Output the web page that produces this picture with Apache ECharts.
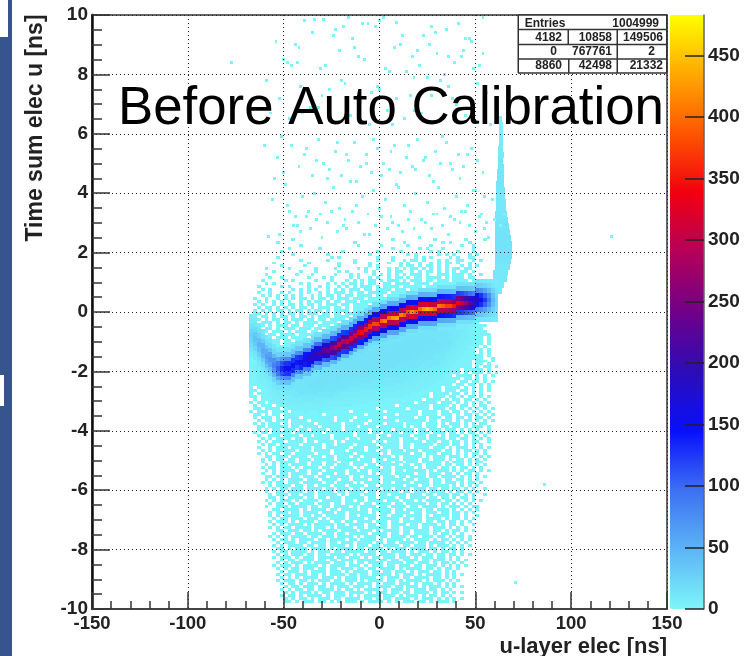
<!DOCTYPE html>
<html><head><meta charset="utf-8">
<style>html,body{margin:0;padding:0;background:#fff}#c{width:751px;height:656px}</style>
<script src="https://cdn.jsdelivr.net/npm/echarts@6/dist/echarts.min.js"></script></head>
<body><div id="c"></div>
<script>
const titleText = 'Before Auto Calibration';
const xTitle = 'u-layer elec [ns]';
const yTitle = 'Time sum elec u [ns]';
const paletteMax = 483;
const paletteColors = ['#7DF6FA','#5CB4F6','#3D70F4','#0810FA','#2E0CB8','#6F0088','#B4005A','#F00010','#FF5500','#FFA800','#FFFF00'];
const statsRows = [['Entries','','1004999'],['4182','10858','149506'],['0','767761','2'],['8860','42498','21332']];

// background counts, top row first; each row is 0.1 ns tall, each char 2 ns wide starting at -70 ns; digit = count/2.5
const bgRows = [
"............1.........................1..........1.......1....1.......",
"........1...................1............1.........1.1....1...........",
"..............1..............1.....1......1.....1.......1..1..........",
"...........1.......1..................1......1.1...1.......1..........",
".........1...............1........1.....1.......1.1....1...1..........",
"............1........1..........1.........1.1.....1.1.1...1.1.........",
"........1.............1.1.........1...1.....1.1.1....1.1..11..........",
"..............1......1......1.....1...1..1.11.1...1.1..11..1.1........",
".......1........1.......1...1...1....1..1.1..1..1.1.11.1..1...........",
".........1.....1........1.......1.1.....1.11.1.11.1.1...1.1.1.........",
".....1.....1......1....1.....1.1..1..1.1.1.11.1.1.1.1.11.11...........",
".......1......1...1.....1.1....1.1...1.11..1.1.11.1.1.1.11.1..........",
".....1.......1...1.....1...1.1...1.1.1.1.1.111.1..111.111.1..1........",
"......1..1......1...1.1....1.1..1.1..1.11.1.11.1111.1.111.11..........",
"....1.....1.1.....1...1...1.1.1.11.1.111.1.111.11.111.1111.1.1........",
".....1.1......1.1....1.1.1.11.1.11..11.1111.1111.111111.111.1.........",
"...1.....1.1....1..1.1..1.1.1.111.1.1111.11111.1111.111111.11.1.......",
"....1.1.....1.1.1.1..1.1.1.111.11.1111.111.1111111.1111111.1..........",
"...1..1..1.1..1.1..1.1.111.1.11.11111.1111111.11111111.11111.1........",
"....1.1.1.1.1.1..1.1.11.1.11.1111.11.111111.111111111111111.1.........",
"..1..1..1.1.1.11.1.11.1.111.111.1111111.11111111111111111111..1.......",
"...1.1.1.1.1..1.1.11.1.11.111.111111.1111111111111111211111.1.........",
"..1.1..1.1.11.1.11.1.111.11.1111.111111111111111211121211111.1........",
"...1.11.1.1.1.11.1.111.11.1.1111111.1111111111122122212221111.........",
"..1.1.1.11.1.11.1.11.1.1111.11111111111111122222222222222211..1.......",
"..11.1.1.1.11.1.111.11.11.1111.111111111112222222222322322211.1.......",
"..1.11.1.11.1.11.1.111.1111.11111111111222222323333333322221111.......",
"..11.1.11.1.111.11.11.1111.1111111111222223233333333333322221.1.......",
"..1.111.1.11.1.1111.1111.111111111122222333333333344433332211.........",
"..111.1.111.11.111.111.1111111111222233333333344444444433322111.......",
"..11.11.1.111.111.11.11111111112222333333344444445444443332111........",
".1.111.111.1.111.11.1111111111222333333444444455555554444322111.......",
"..111.11.1111.1111.111111111222233334444445555555555554433221111......",
".11.111.111.1111.111111111222233334444555555555555555444332211.1......",
".1111.111.11.11111.1111122223333444455555566666666555543322111.1......",
".111.1111.11111.1111112222333344445555666666666666655543322111.1......",
".11111.11111.111111112223333444555566666666666666665544332111.1.......",
".1111111.111111.11222233334445555666666666666666655544332211.1.1......",
".11211111.11111112222333444455566666666666666665555443322111.1.1......",
".1122111111111122233334445555666666666666666655554443332211111.1......",
".1112221111111222333444555566666666666666666555554443322111111..1.....",
".1122222111122233344455566666666666666666655555444433221111.111.1.....",
".1122222211122333444555666666666666666665555554444433221111.11.1......",
".1223322221223334445556666666666666666655555544443332211111.1.11.1....",
".1223332222233344455566666666666666665555555444433322111.11111.1......",
".1123333222333444555666666666666666555555544444333222111.1.111.1.1....",
".11233332333444555566666666666655555555544444333322211.1111.1.1.1.....",
".1122333333444455566666666665555555544444443333322211111.11.1.1.......",
".112223344445555566666666555555554444444433333222211111.11.11.1.1.....",
".11122334444555566666655555555444444444333332222211111.11.11.1.1......",
".1.112333444555566665555555444444443333333222222111.1111.1.1.1.1......",
".11.11233344455555555555444444333333333322222211111.111.11.1.1.1......",
".1.111223344445555544444433333333322222222211111.1111.11.1.1.1........",
".11.11122333444444444443333333222222222221111111.111.11.1.11.1.1......",
"..1.111222333334443333333322222222221111111111.1111.1.11.11.1.1.......",
".1.11.11222333333333322222222222111111111111.11111.111.1.1.1.1.1......",
"..1.111.1222222222222222222211111111111.11111111.1111.1.11.1.11.......",
"..11.1111.112222222222211111111111.1111111.11111.111.11.1.1.1.1.1.....",
".1.111.1111.111211121111111.11111111.11111111.1111.11.11.1.1.1.1......",
"..11.1.11.1111111111.1111111111.1111111.11111.1111.111.1.11.1.1.1.....",
"..1.111.1.1111.11111111.1111.1111111.1111111.11.111.11.11.1.11.1......",
"...1.11.111.1111.111111.111.1111.111111.1111111.11.111.1.11.1.1.1.....",
"..1.1.111.1.111111.111111.11111.1111.1111.1111.111.1.111.1.1.11.......",
"...11.11111.11.1111.11111.111.1111.111111.1.11.111.11.11.1.111.1......",
"...1.1.11.111.11.1111.111.111111.11111.11111.11.111.111.1.1.1..1......",
"..1.11.11111.1111111.1111111.111.11.1111.111.111.111.11.1.11.1.1......",
"...1..111.1111.11.1111.11111.11111.11.11111.111.11.1.111.1.11.1.......",
"....1.1.1111.11.111111.111.11.1111.11111.111.11.1111.11.11.1.1.1......",
"...1.1.111.1111.11.1111.1.1111111.11.111.11111.111.11.11.1.11..1......",
"....1.11.11111.11111.11.1111.11111.11111.11.11111.111.11.1.1.1........",
"...1..1.111.11111.11.111111.111.111.1111.11.1111.111.1.111.1.1.1......",
"....1.1.11111.111.1111.111.1111.11.11.111.111.11111.11.1.11.1.1.......",
"...1.1.11.11.11111.111.11111.111111.1.11111.11.111.111.1.1.11.1.......",
".....11.111.1111.111.11.111.11.1111111.1.11111.1.111.111.1.1.1.1......",
"....1.1.11.11.111.11111.11111.111.11.111.1111.11.111.1.11.1.1.1.......",
"....1..1.1111.11.111.111.11.11111.1111.11.111.11111.1.111.1.11........",
".....1.1.11.1111.111.11.111.111.11.11111.11.11.1111.11.11.1.1.1.......",
"....1.11.111.1.1111.11.11111.1.1111.11.11111.1.111.11.1.11.1.1........",
".....1.1.1111.11.111.11111.11.11.11111.11.11111.1.111.1.1.11.1.1......",
"....1..1.11.1111.11.111.11.11111.1.111.11111.11.111.11.1.11.1.........",
".....11.111.11.111.11.11111.11.1111.111.11.1111.11.1111.1.1.1.1.......",
".....1.1.1.1111.111.1111.11.1111.11.11111.11.111.11.11.11.1.1.........",
"....1.1.11.111.11111.11.1111.1.1111.11.1111.1111.11.111.1.11.1........",
"......1.1111.11.11.111.111.1111.11.111111.111.11.1111.1.1.1.1.........",
".....1.1.11.111.1111.11.111.11.1111.11.1111.111.11.11.11.1.1..1.......",
".....1..11.1111.11.1111.11.1111.11.11111.11.111.1111.1.11.1.1.........",
"......1.111.11.111.11111.1.111.111.11.1111.111.11.111.11.1.1..1.......",
"......11.1.1111.11.11.111.11111.11.1111.11.1111.11.11.1.11.1..........",
".....1.1.111.1.1111.11111.11.11.1111.111.111.1.1111.11.1.1.1.1........",
"......1.11.11.1111.111.11.1111.11.1111.11.11111.11.11.1.1.1...........",
".....1..111.1111.11.11.1111.1.1111.11.1111.11.1111.1.111.1.11.........",
".......11.1111.1.1111.11.1111.11.11111.11.1111.11.111.1.1.1.1.........",
"......1.111.11.1111.111.11.11111.1.111.1111.11.111.11.11.1.1..........",
"......1.1.1111.11.11.11111.11.1111.11.111.1111.1.1111.11.1..1.........",
".......1.11.111.111.1.1111.1111.11.11111.11.11.1111.1.11.1.1..........",
"......1.111.1.1111.111.11.11.1111.111.11.11111.11.11.11.1.1...........",
".......1.1.1111.1.11111.11.1111.11.11.1111.11.1111.1.11.1..1..........",
"......1.1.11.1111.111.1.1111.11.11111.11.1111.11.111.1.1.1............",
"........11.111.11.1.1111.1111.111.1.1111.11.1111.11.1.11.1.1..........",
".......1.111.11.1111.11.11.11111.1111.11.11.1111.1.11.1.1.............",
"......1.1.1.1111.11.111.1111.1.111.11.1111.11.111.11.1.11.1...........",
".......1.11.1.1111.11.1111.11.1111.1.1111.1.1111.1.11.1.1.1...........",
"........1.111.11.1111.11.111.1111.11.11.1111.11.1111.1.1.1............",
".......1.1.1111.11.11.1111.1.111.11.1111.11.111.1.111.1.1.1...........",
"........11.1.111.1111.1.1111.11.1111.1.111.1111.11.1.11.1.............",
".......1.11.1111.1.111.11.11111.11.11.1111.1.111.1.11.1.1.............",
"........1.1.111.11.11.11111.1.1111.1111.11.111.11.11.11.1.1...........",
".......1.111.1.111.1111.11.111.1.11.111.111.1.111.11.1.1..............",
".........1.11.1111.11.11.111.11111.11.11.1111.11.111.1.1.1............",
"........1.1.111.1.1111.111.1.11.1111.1111.11.111.1.11.1.1.............",
".......1.111.1.1111.1.1111.111.1.111.11.111.11.111.1.1.1.1............",
"........1.1.11.111.11.11.111.11.11.1111.1.1111.11.1.11.1..............",
".........1.111.1.1111.111.1.1111.11.11.111.1.111.11.1.1...............",
"........1.11.111.11.1.1111.11.11.11111.1.111.1.1111.1.1.1.............",
".........1.1.1.1111.111.1.111.1111.1.111.11.1111.11.1.1...............",
"........1.111.11.1.111.11.111.1.1111.11.1.1111.1.111.1.1..............",
".........1.11.1.111.1.1111.1.1111.1.111.111.1.111.1.1.1...............",
"..........1.11.111.11.1.111.111.1.1111.11.111.1.111.1.1.1.............",
".........1.1.11.11.1111.1.11.1.1111.1.111.1.111.11.1.1................",
"..........1.1.111.1.11.111.1111.1.111.11.11.1111.1.11.1.1.............",
".........1.11.1.1111.1.111.1.1.1111.111.1.111.1.11.1.1................",
"..........1.1.11.1.111.11.1111.11.1.11.1111.1.111.1.1.1.1.............",
"..........11.1.111.11.1.1.111.1.1111.1.1.111.11.1.111.1..............."
];
const bgTopEdge = 2.5, bgRowH = 0.1, bgLeft = -70, bgColW = 2, bgScale = 2.5;

// ridge columns: [x left edge, bin centre y, nine bins of counts, lowest first]; columns are 2 ns wide, bins 0.16 ns tall
const bandBinH = 0.16;
const bandColumns = [
[-68,-0.8,8,12,18,24,28,24,16,10,7],[-66,-0.9,9,14,24,34,40,34,22,12,8],[-64,-1.1,10,16,28,40,48,40,26,14,9],
[-62,-1.3,10,18,32,48,56,48,30,16,10],[-60,-1.5,10,20,36,54,64,54,34,18,10],[-58,-1.6,11,22,40,60,72,62,38,20,11],
[-56,-1.8,11,24,46,72,86,74,44,22,12],[-54,-1.9,12,28,56,90,108,92,56,26,12],[-52,-1.9,14,34,72,112,132,112,68,30,13],
[-50,-1.9,14,38,80,126,150,128,78,34,14],[-48,-1.9,14,38,82,128,152,130,78,34,14],[-46,-1.8,14,38,80,130,148,128,76,34,14],
[-44,-1.7,13,36,76,124,142,124,72,32,14],[-42,-1.7,14,38,82,136,160,132,80,34,14],[-40,-1.6,14,36,84,140,168,142,82,36,14],
[-38,-1.6,14,38,88,146,176,150,86,38,15],[-36,-1.5,14,38,90,156,192,160,90,38,15],[-34,-1.4,14,40,94,160,196,160,92,40,15],
[-32,-1.4,15,42,100,170,210,172,98,42,15],[-30,-1.3,15,44,104,180,226,182,104,44,16],[-28,-1.3,15,44,110,190,240,192,108,46,16],
[-26,-1.2,16,46,116,204,258,206,114,46,16],[-24,-1.2,16,48,124,218,280,220,120,48,16],[-22,-1.1,16,50,128,232,298,232,126,50,16],
[-20,-1.0,16,50,124,222,286,224,122,50,17],[-18,-1.0,16,50,128,236,304,238,128,50,17],[-16,-0.9,17,52,130,240,312,242,130,52,17],
[-14,-0.8,17,54,134,244,320,246,134,54,18],[-12,-0.7,18,56,138,254,336,256,138,56,18],[-10,-0.7,18,56,140,260,344,262,140,56,18],
[-8,-0.6,18,58,144,268,352,268,142,56,18],[-6,-0.5,18,58,146,272,366,276,146,58,18],[-4,-0.4,18,60,150,282,376,284,150,58,18],
[-2,-0.4,18,60,150,284,372,280,146,56,18],[0,-0.3,18,60,152,290,392,292,150,58,18],[2,-0.3,18,62,156,296,410,300,152,58,18],
[4,-0.2,18,60,150,292,400,296,150,56,18],[6,-0.2,18,60,152,300,424,302,150,56,18],[8,-0.2,18,60,154,302,430,304,150,56,18],
[10,-0.1,18,60,150,296,410,294,146,54,18],[12,-0.1,18,58,148,294,392,292,144,54,17],[14,0,18,60,150,300,380,296,146,54,17],
[16,0,18,60,156,320,420,320,150,54,17],[18,0,18,58,150,304,390,302,146,52,16],[20,0.1,18,58,150,306,396,306,146,52,16],
[22,0.1,18,60,154,318,430,318,150,52,16],[24,0.1,18,60,156,322,440,320,150,52,16],[26,0.1,18,60,152,316,424,314,148,50,16],
[28,0.1,18,58,150,304,398,304,144,50,16],[30,0.2,18,56,146,300,404,300,142,48,15],[32,0.2,17,56,144,296,392,294,140,46,15],
[34,0.2,17,54,140,286,372,284,136,46,15],[36,0.2,17,54,138,280,376,282,134,44,15],[38,0.2,16,52,132,266,352,264,128,42,15],
[40,0.3,16,50,128,254,334,250,122,40,14],[42,0.3,16,48,122,236,306,232,116,38,14],[44,0.3,15,46,112,212,272,208,106,36,13],
[46,0.3,15,42,102,190,240,186,96,34,13],[48,0.3,14,40,94,168,214,166,88,32,12],[50,0.4,14,38,88,150,190,148,82,30,12],
[52,0.4,13,34,76,130,160,128,72,28,11],[54,0.4,12,28,62,104,124,102,58,24,10],[56,0.4,11,22,46,76,90,74,42,18,9],
[58,0.4,9,16,28,40,46,38,24,12,8],[60,0.4,7,10,14,18,20,16,12,8,6]
];

// narrow vertical spike near +63 ns: [y bottom, x from, x to, count]; rows are 0.2 ns tall
const spikeRows = [
[6.4,62.6,64,1],[6.2,62.6,64.2,2],[6.0,62.4,64.4,3],[5.8,62.2,64.6,6],[5.6,62.2,64.6,8],[5.4,62,64.6,8],[5.2,62,64.8,9],[5.0,61.8,64.6,12],
[4.8,61.6,64.8,12],[4.6,61.4,65,12],[4.4,61.2,65,12],[4.2,61,65.2,12],[4.0,61,65.4,11],[3.8,60.8,65.6,10],[3.6,60.8,65.8,10],[3.4,60.6,66,10],
[3.2,60.4,66.4,11],[3.0,60.4,67,12],[2.8,60.2,67.6,13],[2.6,60.2,68,14],[2.4,60,68.6,14],[2.2,60,69,14],[2.0,60,69,14],[1.8,60,69,14],
[1.6,60,68.4,12],[1.4,60,68,10],[1.2,59,67,10],[1.0,59,66.5,10],[0.8,58,65,8],[0.6,58,64,8]
];

// isolated single-count bins above the dense region: x, y pairs
const sparseX = [-77,-58,121,71,86,-52,-47,-45,-41,-38,-36,-33,-30,-27,-25,-22,-19,-17,-14,-11,-8,-5,-2,1,4,7,10,12,15,18,21,24,27,30,33,36,39,42,45,47,50,52,55,57,60,63,65,-48,-44,-40,-37,-34,-31,-28,-24,-21,-18,-15,-12,-9,-6,-3,0,3,6,9,13,16,19,22,25,28,31,34,37,40,43,46,49,53,56,59,-55,-53,-50,-46,-42,-39,-35,-32,-29,-26,-23,-20,-16,-13,-10,-7,-4,-1,2,5,8,11,14,17,20,23,26,29,32,35,38,41,44,48,51,54,-60,-56,-51,-49,-43,-38,-33,-27,-22,-17,-12,-7,-3,1,6,10,15,19,24,28,33,37,42,46,50,55,58,-57,-52,-47,-41,-36,-30,-25,-20,-15,-10,-5,0,4,9,13,18,22,27,31,36,40,45,49,54,-54,-48,-42,-35,-28,-21,-14,-8,-2,3,8,12,17,21,26,30,35,39,44,48,52,56,-59,-50,-44,-37,-31,-24,-18,-11,-6,-1,5,11,16,20,25,29,34,38,43,47,51,-46,-39,-32,-26,-19,-13,-4,2,7,14,23,32,41,-43,-34,-23,-16,-9,0,9,18,27,36,45,54,-40,-29,-12,-3,6,15,24,33,42,51,60,-25,-15,-5,5,13,20,31,44,62,61];
const sparseY = [8.4,2.53,2.53,-9.1,-5.8,2.6,3.4,2.9,2.7,3.2,2.8,3.1,2.5,3.0,3.4,2.7,2.9,2.8,3.4,3.0,2.6,2.6,2.9,3.2,2.8,3.0,2.9,2.7,3.1,2.8,2.5,3.0,2.8,3.3,2.9,2.6,3.1,3.0,3.4,2.9,2.7,3.2,2.8,2.5,3.1,2.9,3.3,3.6,3.2,3.9,3.4,4.0,3.3,3.7,4.2,3.5,3.1,4.4,3.6,3.9,3.3,4.1,3.5,3.8,3.2,4.3,3.6,3.4,4.0,3.1,3.7,3.3,4.2,3.5,3.2,3.9,3.4,3.6,4.1,3.3,3.0,3.8,4.5,5.2,4.7,5.6,4.9,5.3,4.6,5.8,5.0,4.8,5.4,4.6,5.1,5.7,4.9,5.3,4.7,5.5,5.0,4.8,5.6,4.7,5.2,4.9,5.8,5.1,4.6,5.4,5.0,5.7,4.8,5.3,4.9,5.5,5.1,4.7,5.6,3.8,5.9,4.3,2.9,5.5,5.1,4.5,5.7,5.3,4.4,5.0,5.8,4.6,5.4,4.2,5.6,4.8,5.2,4.4,5.9,5.0,4.5,5.3,4.1,3.9,6.3,6.7,7.2,6.5,7.6,6.9,7.3,6.4,7.8,6.6,7.1,6.3,7.5,6.8,7.2,6.5,7.9,6.7,7.3,6.4,7.6,7.0,6.6,8.2,8.7,9.1,8.4,8.9,9.4,8.3,8.8,9.2,8.5,9.6,8.2,8.9,9.3,8.6,8.3,9.0,8.7,9.5,8.4,8.8,9.1,8.3,7.4,7.8,8.5,9.0,7.5,8.2,9.3,7.7,8.6,9.7,7.6,8.1,9.0,7.3,8.8,7.9,9.4,8.0,7.2,8.6,9.2,7.7,8.3,9.8,6.9,7.5,9.6,8.9,7.4,9.9,6.3,8.1,9.3,7.8,9.7,8.4,9.85,9.5,9.9,9.7,9.8,9.75,6.8,9.6,8.6,9.2,9.9,6.7,9.85];

const cells = [];
bgRows.forEach((row, r) => {
  const top = bgTopEdge - r * bgRowH;
  for (let i = 0; i < row.length; i++) {
    if (row[i] !== '.') cells.push([bgLeft + i * bgColW, bgLeft + (i + 1) * bgColW, top - bgRowH, top, +row[i] * bgScale]);
  }
});
spikeRows.forEach(s => cells.push([s[1], s[2], s[0], s[0] + 0.2, s[3]]));
sparseX.forEach((x, i) => { if (sparseY[i] !== undefined) cells.push([x - 0.75, x + 0.75, sparseY[i] - 0.05, sparseY[i] + 0.05, 1]); });
bandColumns.forEach(c => {
  for (let k = 0; k < 9; k++) {
    const yc = c[1] + (k - 4) * bandBinH;
    cells.push([c[0], c[0] + 2, yc - bandBinH / 2, yc + bandBinH / 2, c[2 + k]]);
  }
});

const FONT = '"Liberation Sans", Arial, sans-serif';
const INK = '#222';
const g = [];
const rect = (x, y, w, h, fill) => g.push({type:'rect', z:100, silent:true, shape:{x,y,width:w,height:h}, style:{fill}});
const text = (x, y, t, o) => g.push({type:'text', z:101, silent:true, x, y, rotation:o.rot||0,
  style:{text:t, font:o.font, fill:o.fill||INK, textAlign:o.align||'center', textVerticalAlign:'middle'}});

// slide background fragments
rect(0,0,12,656,'#36558E'); rect(0,0,8,37,'#fff'); rect(0,375,4,31,'#fff');
// stats box
rect(518,15,149,58,'#fff');
[15,29.5,44.5,59,73].forEach(y => rect(518,y-0.75,149,1.5,'#333'));
rect(517.5,15,1.5,58,'#333'); rect(666,15,1.5,58,'#333');
rect(567.5,30,1.5,14,'#333'); rect(568,59,1.5,14,'#333'); rect(616.5,30,1.5,43,'#333');
const statCols = [562,612,663];
const statY = [23.5,37.5,52,66];
const sf = 'bold 12px ' + FONT;
text(545,statY[0],statsRows[0][0],{font:sf});
text(659,statY[0],statsRows[0][2],{font:sf,align:'right'});
statsRows.slice(1).forEach((r,i) => r.forEach((t,j) => {
  let x = statCols[j];
  if (t==='0') x = 557; if (t==='2') x = 655;
  text(x,statY[i+1],t,{font:sf,align:'right'});
}));
text(118,109,titleText,{font:'52.8px '+FONT,align:'left',fill:'#000'});
text(667,647,xTitle,{font:'bold 22px '+FONT,align:'right'});
text(36,128,yTitle,{font:'bold 23px '+FONT,rot:Math.PI/2});
rect(480,652,200,4,'#fff');

const chart = echarts.init(document.getElementById('c'), null, {renderer:'canvas'});
chart.setOption({
  animation:false,
  backgroundColor:'#fff',
  grid:[
    {left:92,top:15,width:575,height:594,show:true,borderColor:'#333',borderWidth:1.5,backgroundColor:'transparent'},
    {left:670,top:15,width:34,height:594,show:false}
  ],
  xAxis:[
    {type:'value',gridIndex:0,min:-150,max:150,interval:50,z:5,
     axisLine:{show:true,onZero:false,lineStyle:{color:'#444',width:2}},
     axisTick:{show:true,inside:true,length:17,lineStyle:{color:'#333',width:1.5}},
     minorTick:{show:true,splitNumber:5,length:8,lineStyle:{color:'#333',width:1.5}},
     splitLine:{show:true,lineStyle:{color:'#222',type:[1,3],width:1}},
     axisLabel:{fontFamily:FONT,fontWeight:'bold',fontSize:18.5,color:INK,margin:5,showMinLabel:true,showMaxLabel:true}},
    {type:'value',gridIndex:1,min:0,max:1,show:false}
  ],
  yAxis:[
    {type:'value',gridIndex:0,min:-10,max:10,interval:2,z:5,
     axisLine:{show:true,onZero:false,lineStyle:{color:'#111',width:2.5}},
     axisTick:{show:true,inside:true,length:18,lineStyle:{color:'#333',width:1.5}},
     minorTick:{show:true,splitNumber:4,length:10,lineStyle:{color:'#333',width:1.5}},
     splitLine:{show:true,lineStyle:{color:'#222',type:[1,3],width:1}},
     axisLabel:{fontFamily:FONT,fontWeight:'bold',fontSize:19,color:INK,margin:4,showMinLabel:true,showMaxLabel:true}},
    {type:'value',gridIndex:1,min:0,max:paletteMax,interval:50,position:'right',z:6,
     axisLine:{show:true,onZero:false,lineStyle:{color:'#666',width:1.5}},
     axisTick:{show:true,inside:true,length:19,lineStyle:{color:'#222',width:1.5}},
     splitLine:{show:false},
     axisLabel:{showMaxLabel:false,fontFamily:FONT,fontWeight:'bold',fontSize:19,color:INK,margin:4}}
  ],
  visualMap:{type:'continuous',seriesIndex:0,dimension:4,min:0,max:paletteMax,left:670,top:15,padding:0,
    itemWidth:34,itemHeight:594,calculable:false,hoverLink:false,showLabel:false,text:null,
    inRange:{color:paletteColors}},
  series:[{
    type:'custom',xAxisIndex:0,yAxisIndex:0,progressive:0,clip:true,silent:true,
    encode:{x:[0,1],y:[2,3]},
    dimensions:['x0','x1','y0','y1','count'],
    data:cells,
    renderItem:(p,api)=>{
      const a=api.coord([api.value(0),api.value(3)]), b=api.coord([api.value(1),api.value(2)]);
      const x=Math.round(a[0]), y=Math.round(a[1]);
      return {type:'rect',shape:{x,y,width:Math.max(1,Math.round(b[0])-x),height:Math.max(1,Math.round(b[1])-y)},style:{fill:api.visual('color')}};
    }
  }],
  graphic:{elements:g}
});
</script></body></html>
